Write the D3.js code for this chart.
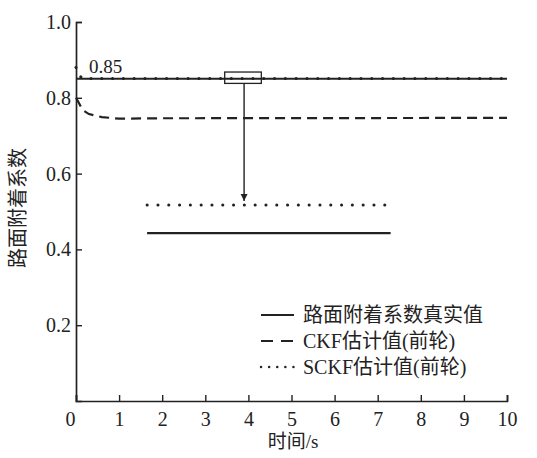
<!DOCTYPE html>
<html>
<head>
<meta charset="utf-8">
<script src="https://cdn.jsdelivr.net/npm/d3@7"></script>
<style>
  body { margin: 0; background: #fff; }
</style>
</head>
<body>
<script>
// data
const xTicks = [0, 1, 2, 3, 4, 5, 6, 7, 8, 9, 10];
const yTicks = [0.2, 0.4, 0.6, 0.8, 1.0];

const trueT = [0, 10];
const trueMu = [0.85, 0.85];

const ckfT = [0, 0.05, 0.15, 0.3, 0.6, 1.0, 2, 10];
const ckfMu = [0.80, 0.79, 0.768, 0.757, 0.749, 0.745, 0.746, 0.747];

const sckfT = [0, 0.05, 0.15, 10];
const sckfMu = [0.88, 0.862, 0.851, 0.851];

// zoom box and its enlarged view
const boxT = [3.45, 4.3];
const boxMu = [0.838, 0.868];
const arrowT = [3.9, 3.9];
const arrowMu = [0.838, 0.528];
const zoomDotT = [1.65, 7.28];
const zoomDotMu = [0.517, 0.517];
const zoomSolidT = [1.65, 7.3];
const zoomSolidMu = [0.443, 0.443];

const legendLabels = ["路面附着系数真实值", "CKF估计值(前轮)", "SCKF估计值(前轮)"];

const FONT = '"Liberation Serif", "DejaVu Serif", "Noto Sans CJK SC", serif';

let svg = d3.select("body")
            .append("svg")
            .attr("width", 537)
            .attr("height", 458);

let x = d3.scaleLinear().domain([0, 10]).range([76, 507]);
let y = d3.scaleLinear().domain([0, 1]).range([401, 22]);

let line = d3.line()
            .x(d => x(d[0]))
            .y(d => y(d[1]));

let zip = (a, b) => a.map((v, i) => [v, b[i]]);

// axes, ticks pointing inward
let xAxis = svg.append("g")
            .attr("transform", "translate(0,401)")
            .call(d3.axisBottom(x).tickValues(xTicks).tickSize(-6).tickPadding(11).tickFormat(d3.format("d")));
let yAxis = svg.append("g")
            .attr("transform", "translate(76,0)")
            .call(d3.axisLeft(y).tickValues(yTicks).tickSize(-6).tickPadding(5).tickFormat(d3.format(".1f")));

[xAxis, yAxis].forEach(g => {
    g.attr("font-family", null).attr("font-size", null);
    g.select(".domain").attr("stroke", "#222").attr("stroke-width", 1.7);
    g.selectAll(".tick line").attr("stroke", "#222").attr("stroke-width", 1.4);
    g.selectAll(".tick text")
        .style("font-family", FONT)
        .style("font-size", "20px")
        .attr("fill", "#222");
});
// the 0 label sits under the origin
xAxis.selectAll(".tick text").filter(d => d === 0).attr("dx", -6);

// series
let addLine = (pts, dash, width, cap) => {
    svg.append("path")
        .datum(pts)
        .attr("d", line)
        .attr("fill", "none")
        .attr("stroke", "#222")
        .attr("stroke-width", width)
        .attr("stroke-linecap", cap || "butt")
        .attr("stroke-dasharray", dash);
};

addLine(zip(trueT, trueMu), null, 2);
addLine(zip(ckfT, ckfMu), "10,6", 2.2);
addLine(zip(sckfT, sckfMu), "0.1,10.7", 3, "round");

// zoom box + arrow
svg.append("rect")
    .attr("x", x(boxT[0]))
    .attr("y", y(boxMu[1]))
    .attr("width", x(boxT[1]) - x(boxT[0]))
    .attr("height", y(boxMu[0]) - y(boxMu[1]))
    .attr("fill", "none")
    .attr("stroke", "#222")
    .attr("stroke-width", 1.3);

svg.append("defs").append("marker")
    .attr("id", "arrowhead")
    .attr("viewBox", "0 0 10 10")
    .attr("refX", 10).attr("refY", 5)
    .attr("markerWidth", 7).attr("markerHeight", 9)
    .attr("markerUnits", "userSpaceOnUse")
    .attr("orient", "auto")
    .append("path")
    .attr("d", "M0,0 L10,5 L0,10 Z")
    .attr("fill", "#222");

svg.append("path")
    .datum(zip(arrowT, arrowMu))
    .attr("d", line)
    .attr("stroke", "#222")
    .attr("stroke-width", 1.4)
    .attr("marker-end", "url(#arrowhead)");

addLine(zip(zoomDotT, zoomDotMu), "0.1,10.7", 3, "round");
addLine(zip(zoomSolidT, zoomSolidMu), null, 2.2);

let txt = (sel) => sel.style("font-family", FONT).attr("fill", "#222");

// 0.85 annotation
svg.append("text")
    .call(txt)
    .attr("x", x(0.3))
    .attr("y", y(0.85) - 6)
    .style("font-size", "19px")
    .text("0.85");

// legend
let legend = svg.append("g");
legendLabels.forEach((lab, i) => {
    let ly = 315 + i * 26;
    legend.append("line")
        .attr("x1", 261).attr("x2", 294)
        .attr("y1", ly).attr("y2", ly)
        .attr("stroke", "#222")
        .attr("stroke-width", i === 2 ? 2.4 : 2)
        .attr("stroke-linecap", i === 2 ? "round" : "butt")
        .attr("stroke-dasharray", [null, "12,8", "0.1,8"][i]);
    legend.append("text")
        .call(txt)
        .attr("x", 303)
        .attr("y", ly)
        .attr("dy", "0.35em")
        .style("font-size", "20px")
        .text(lab);
});

// axis titles
svg.append("text")
    .call(txt)
    .attr("x", 293)
    .attr("y", 448)
    .attr("text-anchor", "middle")
    .style("font-size", "19px")
    .text("时间/s");

svg.append("text")
    .call(txt)
    .attr("transform", "translate(25,208) rotate(-90)")
    .attr("text-anchor", "middle")
    .style("font-size", "20px")
    .text("路面附着系数");
</script>
</body>
</html>
